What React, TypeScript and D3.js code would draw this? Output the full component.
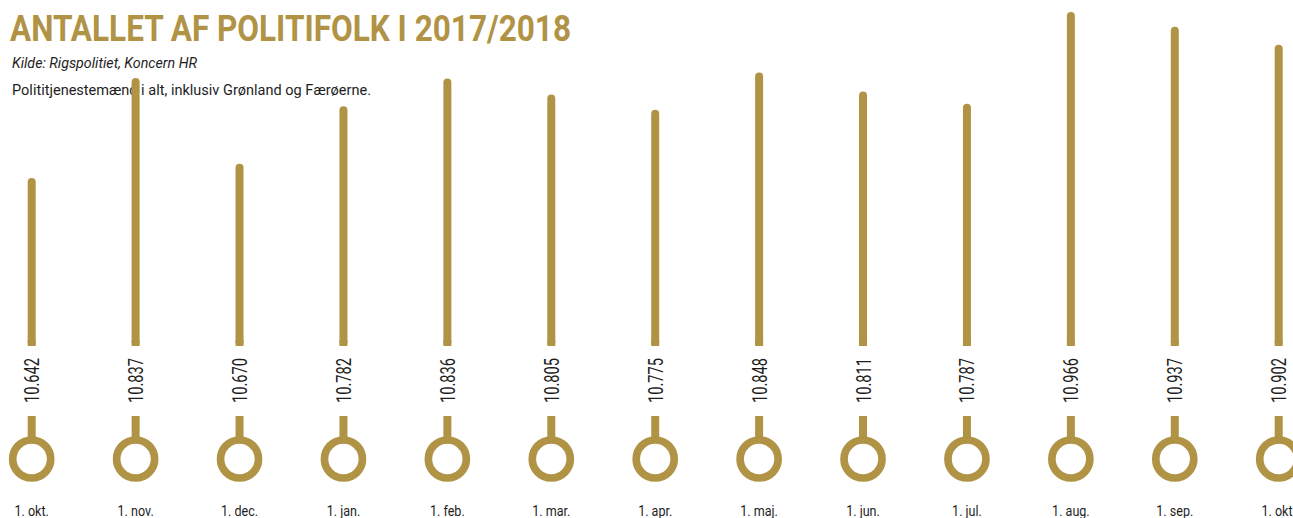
import React from "react";
import * as d3 from "d3";

const months = [
  "1. okt.", "1. nov.", "1. dec.", "1. jan.", "1. feb.", "1. mar.", "1. apr.",
  "1. maj.", "1. jun.", "1. jul.", "1. aug.", "1. sep.", "1. okt.",
];
const values = [10642, 10837, 10670, 10782, 10836, 10805, 10775, 10848, 10811, 10787, 10966, 10937, 10902];
const title = "ANTALLET AF POLITIFOLK I 2017/2018";
const source = "Kilde: Rigspolitiet, Koncern HR";
const note = "Polititjenestemænd i alt, inklusiv Grønland og Færøerne.";

const W = 1293;
const H = 518;
const GOLD = "#B09345";
const INK = "#1e1e1e";
const FONT = "Roboto, 'Noto Sans', sans-serif";

const da = d3.formatLocale({ decimal: ",", thousands: ".", grouping: [3], currency: ["", " kr"] });
const fmt = da.format(",");

export default function App() {
  const x = d3
    .scalePoint<number>()
    .domain(d3.range(values.length))
    .range([31.7, 1278.7]);
  const y = d3.scaleLinear().domain([10314, 10966]).range([346, 12]);

  const base = y(10314);
  const circleY = 459;
  const circleR = 19;
  const stemTop = 416;

  return (
    <svg
      width={W}
      height={H}
      viewBox={`0 0 ${W} ${H}`}
      style={{ position: "absolute", left: 0, top: 0, display: "block", background: "#fff" }}
    >
      {/* header */}
      <text
        x={10}
        y={41}
        fill={GOLD}
        fontFamily={FONT}
        fontWeight={700}
        fontSize={36}
        textLength={561}
        lengthAdjust="spacingAndGlyphs"
      >
        {title}
      </text>
      <text
        x={12}
        y={67.5}
        fill={INK}
        fontFamily={FONT}
        fontStyle="italic"
        fontSize={14.5}
        textLength={185}
        lengthAdjust="spacingAndGlyphs"
      >
        {source}
      </text>
      <text
        x={12}
        y={94.5}
        fill={INK}
        fontFamily={FONT}
        fontSize={14.5}
        textLength={359}
        lengthAdjust="spacingAndGlyphs"
      >
        {note}
      </text>

      {values.map((v, i) => {
        const cx = x(i)!;
        const top = y(v);
        return (
          <g key={i}>
            {/* main stem with rounded top, flat bottom */}
            <line x1={cx} x2={cx} y1={top + 4} y2={base - 4} stroke={GOLD} strokeWidth={8} strokeLinecap="round" />
            <line x1={cx} x2={cx} y1={base - 6} y2={base} stroke={GOLD} strokeWidth={8} />
            {/* value label */}
            <text
              transform={`translate(${cx},403) rotate(-90)`}
              dy={7.5}
              fill={INK}
              fontFamily={FONT}
              fontSize={19.5}
              textLength={45}
              lengthAdjust="spacingAndGlyphs"
            >
              {fmt(v)}
            </text>
            {/* lower stem and ring */}
            <line x1={cx} x2={cx} y1={stemTop} y2={circleY - circleR} stroke={GOLD} strokeWidth={8} />
            <circle cx={cx} cy={circleY} r={circleR} fill="none" stroke={GOLD} strokeWidth={7.7} />
            {/* month label */}
            <text
              transform={`translate(${cx},515.5) scale(0.81,1)`}
              textAnchor="middle"
              fill={INK}
              fontFamily={FONT}
              fontSize={15.5}
            >
              {months[i]}
            </text>
          </g>
        );
      })}
    </svg>
  );
}
